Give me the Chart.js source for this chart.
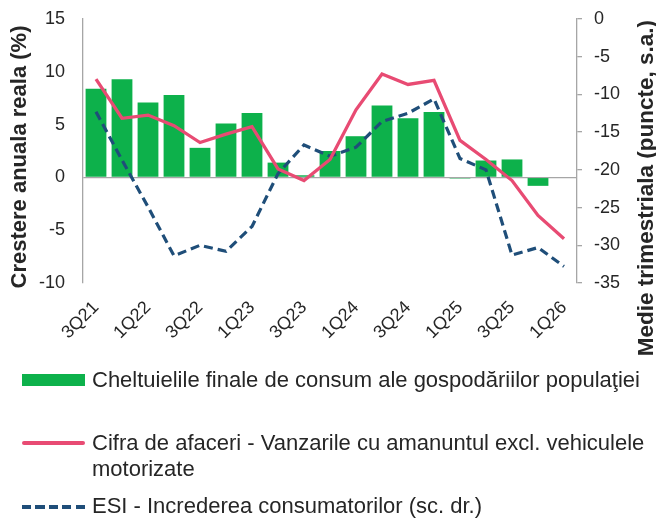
<!DOCTYPE html>
<html>
<head>
<meta charset="utf-8">
<script src="https://cdn.jsdelivr.net/npm/chart.js@4.4.1/dist/chart.umd.min.js"></script>
<style>
  html, body { margin: 0; padding: 0; background: #fff; }
  #wrap { position: relative; width: 656px; height: 518px; }
  .leg { position: absolute; left: 92px; font: 22px "Liberation Sans", Arial, sans-serif; line-height: 26px; color: #262626; white-space: nowrap; }
  .sym { position: absolute; left: 22px; width: 63px; }
</style>
</head>
<body>
<div id="wrap">
  <canvas id="myChart" width="656" height="518"></canvas>
  <div class="sym" style="top:374px;height:12px;background:#0DB14B;"></div>
  <div class="leg" style="top:367px;">Cheltuielile finale de consum ale gospodăriilor populaţiei</div>
  <div class="sym" style="top:441px;height:4px;border-radius:2px;background:#E84B73;"></div>
  <div class="leg" style="top:430px;">Cifra de afaceri - Vanzarile cu amanuntul excl. vehiculele<br>motorizate</div>
  <div class="sym" style="top:505px;height:4px;background:repeating-linear-gradient(to right,#1F4E79 0 9px,transparent 9px 13.5px);"></div>
  <div class="leg" style="top:493px;">ESI - Increderea consumatorilor (sc. dr.)</div>
</div>
<script>
// quarters on the x axis
const quarters = ['3Q21', '4Q21', '1Q22', '2Q22', '3Q22', '4Q22', '1Q23', '2Q23', '3Q23', '4Q23',
                  '1Q24', '2Q24', '3Q24', '4Q24', '1Q25', '2Q25', '3Q25', '4Q25', '1Q26'];
// left axis (%)
const consum = [8.4, 9.3, 7.1, 7.8, 2.8, 5.1, 6.1, 1.4, 0.2, 2.5, 3.9, 6.8, 5.6, 6.2, -0.1, 1.6, 1.7, -0.8, null];
const retail = [9.3, 5.6, 5.9, 4.9, 3.3, 4.1, 4.8, 0.8, -0.3, 1.7, 6.4, 9.8, 8.8, 9.2, 3.5, 1.7, -0.3, -3.6, -5.8];
// right axis (puncte)
const esi = [-12.3, -18.7, -24.9, -31.4, -30.0, -30.8, -27.5, -20.5, -16.7, -18.2, -17.0, -13.6, -12.5, -10.6,
             -18.5, -20.0, -31.3, -30.3, -32.8];

const leftTitle = 'Crestere anuala reala (%)';
const rightTitle = 'Medie trimestriala (puncte, s.a.)';

const txt = '#262626';
const axisGray = '#a6a6a6';
const tickFont = { family: '"Liberation Sans", Arial, sans-serif', size: 18 };

// axis titles both read bottom-to-top, so draw them ourselves
const axisTitles = {
    id: 'axisTitles',
    afterDraw(chart) {
        const c = chart.ctx;
        c.save();
        c.font = 'bold 22px "Liberation Sans", Arial, sans-serif';
        c.fillStyle = txt;
        c.textBaseline = 'middle';
        c.translate(20, 157);
        c.rotate(-Math.PI / 2);
        c.textAlign = 'center';
        c.fillText(leftTitle, 0, 0);
        c.restore();

        c.save();
        c.font = 'bold 22.5px "Liberation Sans", Arial, sans-serif';
        c.fillStyle = txt;
        c.textBaseline = 'middle';
        c.translate(647, 20);
        c.rotate(-Math.PI / 2);
        c.textAlign = 'right';
        c.fillText(rightTitle, 0, 0);
        c.restore();
    }
};

// fixed axis widths, and don't let tick padding push the plot top down
function fitY(width) {
    return (s) => {
        s.width = width;
        s.paddingTop = 0;
        s.paddingBottom = 0;
    };
}

const ctx = document.getElementById('myChart').getContext('2d');

const myChart = new Chart(ctx, {
    type: 'bar',
    data: {
        labels: quarters,
        datasets: [
            {
                type: 'line',
                label: 'Cifra de afaceri - Vanzarile cu amanuntul excl. vehiculele motorizate',
                data: retail,
                borderColor: '#E84B73',
                borderWidth: 3.3,
                pointRadius: 0,
                tension: 0,
                yAxisID: 'y',
                order: 1
            },
            {
                type: 'line',
                label: 'ESI - Increderea consumatorilor (sc. dr.)',
                data: esi,
                borderColor: '#1F4E79',
                borderWidth: 3.2,
                borderDash: [9, 5],
                pointRadius: 0,
                tension: 0,
                yAxisID: 'y1',
                order: 2
            },
            {
                label: 'Cheltuielile finale de consum ale gospodăriilor populaţiei',
                data: consum,
                backgroundColor: '#0DB14B',
                barPercentage: 0.8,
                categoryPercentage: 1,
                yAxisID: 'y',
                order: 3
            }
        ]
    },
    options: {
        responsive: false,
        animation: false,
        layout: { padding: { top: 19, left: 0, right: 0, bottom: 0 } },
        plugins: {
            legend: { display: false },
            tooltip: { enabled: false }
        },
        scales: {
            x: {
                grid: { display: false },
                border: { display: false },
                ticks: {
                    autoSkip: false,
                    maxRotation: 45,
                    minRotation: 45,
                    padding: 6,
                    color: txt,
                    font: tickFont,
                    callback: function (val, i) { return i % 2 === 0 ? this.getLabelForValue(val) : ''; }
                },
                afterFit: (s) => { s.height = 518 - 283; }
            },
            y: {
                position: 'left',
                min: -10,
                max: 15,
                ticks: { stepSize: 5, padding: 18, color: txt, font: tickFont },
                grid: {
                    drawTicks: false,
                    color: (c) => c.tick && c.tick.value === 0 ? axisGray : 'rgba(0,0,0,0)',
                    lineWidth: 1.3
                },
                border: { display: true, color: axisGray, width: 1.3 },
                afterFit: fitY(83)
            },
            y1: {
                position: 'right',
                min: -35,
                max: 0,
                ticks: { stepSize: 5, padding: 12, color: txt, font: tickFont },
                grid: { drawOnChartArea: false, drawTicks: true, tickLength: 5, color: axisGray, lineWidth: 1.3 },
                border: { display: true, color: axisGray, width: 1.3 },
                afterFit: fitY(656 - 577)
            }
        }
    },
    plugins: [axisTitles]
});
</script>
</body>
</html>
